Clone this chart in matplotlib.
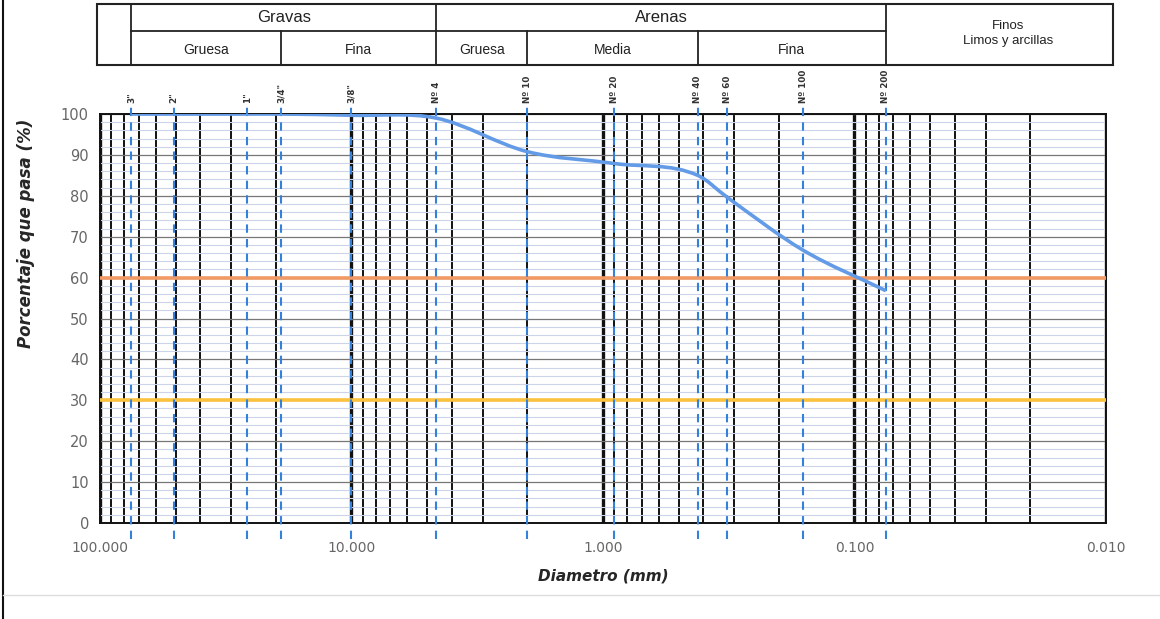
import numpy as np
import matplotlib
matplotlib.use("Agg")
import matplotlib.pyplot as plt
from matplotlib import transforms
from matplotlib.lines import Line2D
from matplotlib.patches import PathPatch, Rectangle
from matplotlib.path import Path
from matplotlib.ticker import FuncFormatter, LogLocator, MultipleLocator, NullFormatter

# sieve openings (mm) as placed on the sheet, and % passing at each
sieve_labels = ['3"', '2"', '1"', '3/4"', '3/8"', "Nº 4", "Nº 10", "Nº 20", "Nº 40", "Nº 60", "Nº 100", "Nº 200"]
sieve_mm = [75, 51, 26, 19, 10, 4.6, 2.0, 0.9, 0.42, 0.32, 0.16, 0.075]
passing = [100, 100, 100, 100, 99.7, 99.0, 90.8, 87.9, 85.0, 79.6, 66.7, 56.8]

ref_60 = 60
ref_30 = 30

# header table: soil groups bounded by sieves (indexes into sieve_mm)
gravel_title = "Gravas"
gravel_sub = ["Gruesa", "Fina"]
gravel_bounds = [0, 3, 5]
sand_title = "Arenas"
sand_sub = ["Gruesa", "Media", "Fina"]
sand_bounds = [5, 6, 8, 11]
fines_text = "Finos\nLimos y arcillas"

x_ticks_fmt = lambda v, _: f"{v:.3f}"


def smooth_path(x, y):
    """Smoothed line drawn as cubic Beziers (Hermite tangents in log-x)."""
    lx, y = np.log10(x), np.asarray(y, float)
    dx, dy = np.diff(lx), np.diff(y)
    sec = dy / dx
    m = np.zeros_like(y)
    m[0], m[-1] = sec[0], sec[-1]
    for i in range(1, len(y) - 1):
        a, b = sec[i - 1], sec[i]
        m[i] = 0.0 if a * b < 0 else (a + b) / 2
    verts, codes = [(lx[0], y[0])], [Path.MOVETO]
    for i in range(len(y) - 1):
        h = dx[i] / 3
        verts += [(lx[i] + h, y[i] + h * m[i]),
                  (lx[i + 1] - h, y[i + 1] - h * m[i + 1]),
                  (lx[i + 1], y[i + 1])]
        codes += [Path.CURVE4] * 3
    verts = np.array(verts)
    verts[:, 0] = 10 ** verts[:, 0]
    return Path(verts, codes)


fig = plt.figure(figsize=(11.6, 6.19), dpi=100)
ax = fig.add_axes([0.0862, 0.1551, 0.8672, 0.6607])

ax.set_xscale("log")
ax.set_xlim(100, 0.01)
ax.set_ylim(0, 100)
ax.xaxis.set_major_locator(LogLocator(base=10))
ax.xaxis.set_minor_locator(LogLocator(base=10, subs=np.arange(2, 10)))
ax.xaxis.set_major_formatter(FuncFormatter(x_ticks_fmt))
ax.xaxis.set_minor_formatter(NullFormatter())
ax.yaxis.set_major_locator(MultipleLocator(10))
ax.yaxis.set_minor_locator(MultipleLocator(2))

ax.set_axisbelow(True)
ax.grid(axis="y", which="minor", color="#cbd4e8", lw=0.8)
ax.grid(axis="y", which="major", color="#777777", lw=0.9)
ax.grid(axis="x", which="minor", color="#111111", lw=1.4)
ax.grid(axis="x", which="major", color="#111111", lw=2.4)

ax.tick_params(which="both", length=0)
ax.tick_params(axis="y", labelsize=10.5, labelcolor="#666666", pad=8)
ax.tick_params(axis="x", labelsize=10, labelcolor="#666666", pad=13)
for s in ax.spines.values():
    s.set_color("#111111")
    s.set_linewidth(1.4)

ax.axhline(ref_60, color="#f19a66", lw=2.6, zorder=3)
ax.axhline(ref_30, color="#fbc23e", lw=2.6, zorder=3)

ax.vlines(sieve_mm, -4, 102, colors="#3381da", lw=1.5,
          linestyles=(0, (4, 3)), clip_on=False, zorder=3.5)
for d, lab in zip(sieve_mm, sieve_labels):
    ax.text(d, 102.6, lab, rotation=90, ha="center", va="bottom",
            fontsize=6.3, fontweight="bold", color="#333333")

ax.add_patch(PathPatch(smooth_path(sieve_mm, passing), fill=False,
                       edgecolor="#639be6", lw=2.6, zorder=4,
                       transform=ax.transData))

ax.set_xlabel("Diametro (mm)", fontsize=11, fontweight="bold",
              style="italic", color="#262626", labelpad=10)
ax.set_ylabel("Porcentaje que pasa (%)", fontsize=12, fontweight="bold",
              style="italic", color="#262626")
ax.yaxis.set_label_coords(-0.0646, 0.709)

# header table above the plot, columns tied to the sieve positions
bt = transforms.blended_transform_factory(ax.transData, fig.transFigure)
y_top, y_mid, y_bot = 0.9935, 0.950, 0.895
tbl_left, tbl_right = 0.0836, 0.9595
tkw = dict(color="#222222", lw=1.3, clip_on=False, transform=bt)

fig.add_artist(Rectangle((tbl_left, y_bot), tbl_right - tbl_left, y_top - y_bot,
                         fill=False, edgecolor="#222222", lw=1.5,
                         transform=fig.transFigure))
first, last = sieve_mm[gravel_bounds[0]], sieve_mm[sand_bounds[-1]]
ax.plot([first, last], [y_mid, y_mid], **tkw)
for idx in [gravel_bounds[0], gravel_bounds[-1], sand_bounds[-1]]:
    ax.plot([sieve_mm[idx]] * 2, [y_bot, y_top], **tkw)
for idx in gravel_bounds[1:-1] + sand_bounds[1:-1]:
    ax.plot([sieve_mm[idx]] * 2, [y_bot, y_mid], **tkw)


def gmid(a, b):
    return np.sqrt(sieve_mm[a] * sieve_mm[b])


hfont = dict(family="Liberation Sans", color="#222222", transform=bt,
             ha="center", va="center")
ax.text(gmid(gravel_bounds[0], gravel_bounds[-1]), (y_top + y_mid) / 2,
        gravel_title, fontsize=12, **hfont)
ax.text(gmid(sand_bounds[0], sand_bounds[-1]), (y_top + y_mid) / 2,
        sand_title, fontsize=12, **hfont)
for bounds, names in [(gravel_bounds, gravel_sub), (sand_bounds, sand_sub)]:
    for i, name in enumerate(names):
        ax.text(gmid(bounds[i], bounds[i + 1]), (y_mid + y_bot) / 2 - 0.004,
                name, fontsize=10, **hfont)

fines_x = np.sqrt(sieve_mm[-1] * 0.008)
ax.text(fines_x, 0.946, fines_text, fontsize=9.5, linespacing=1.3,
        multialignment="center", **hfont)

# scan frame edges
fig.add_artist(Line2D([0.003, 0.003], [0, 1], color="#111111", lw=1.5,
                      transform=fig.transFigure))
fig.add_artist(Line2D([0.003, 1], [0.039, 0.039], color="#dddddd", lw=1.0,
                      transform=fig.transFigure))

ax.set_xlim(100, 0.01)
ax.set_ylim(0, 100)
fig.savefig("out.png", dpi=100)
